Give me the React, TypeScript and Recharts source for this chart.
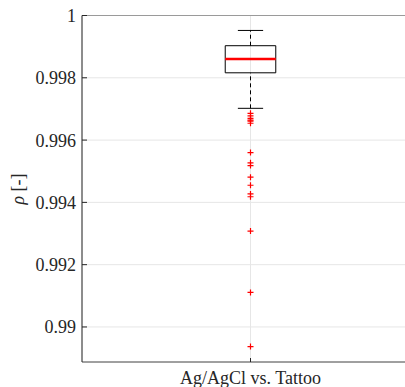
import {
  CartesianGrid,
  ComposedChart,
  Label,
  ReferenceArea,
  ReferenceLine,
  Scatter,
  XAxis,
  YAxis,
} from "recharts";

// one group, MATLAB-style boxplot
const categories = ["Ag/AgCl vs. Tattoo"];
const whiskerLow = [0.99702];
const q1 = [0.99816];
const median = [0.9986];
const q3 = [0.99903];
const whiskerHigh = [0.99952];
const outliers = [
  0.99686, 0.99678, 0.9967, 0.99664, 0.99661, 0.99654, 0.9956, 0.99527,
  0.99518, 0.99481, 0.99455, 0.99427, 0.99418, 0.99308, 0.99111, 0.98937,
];
const yTicks = [0.99, 0.992, 0.994, 0.996, 0.998, 1];

const FONT = "'Times New Roman', 'Liberation Serif', 'DejaVu Serif', serif";
const TEXT = "#262626";
const BOX_HALF = 0.15;
const CAP_HALF = 0.075;

const pos = 1; // x position of the only group

const textStyle = { fontFamily: FONT, fontSize: 18 };

function YTick(props: any) {
  const { x, y, payload } = props;
  return (
    <g>
      <line x1={x + 6} x2={x + 11} y1={y} y2={y} stroke={TEXT} strokeWidth={1} />
      <text x={x} y={y} dy="0.36em" textAnchor="end" fill={TEXT} style={textStyle}>
        {String(Number(payload.value.toFixed(3)))}
      </text>
    </g>
  );
}

function XTick(props: any) {
  const { x, y, payload } = props;
  return (
    <g>
      <line x1={x} x2={x} y1={y - 9} y2={y - 13} stroke={TEXT} strokeWidth={1} />
      <text x={x} y={y} dy="0.71em" textAnchor="middle" fill={TEXT} style={textStyle}>
        {categories[payload.value - 1]}
      </text>
    </g>
  );
}

function Plus(props: any) {
  const { cx, cy } = props;
  return (
    <g stroke="#ff0000" strokeWidth={1.2}>
      <line x1={cx - 3} x2={cx + 3} y1={cy} y2={cy} />
      <line x1={cx} x2={cx} y1={cy - 3} y2={cy + 3} />
    </g>
  );
}

function YLabel() {
  const cx = 24;
  const cy = 189;
  return (
    <text
      x={cx}
      y={cy}
      transform={`rotate(-90, ${cx}, ${cy})`}
      textAnchor="middle"
      fill={TEXT}
      style={textStyle}
    >
      <tspan fontStyle="italic">ρ</tspan> [-]
    </text>
  );
}

export default function App() {
  const points = outliers.map((v) => ({ x: pos, y: v }));
  const i = 0;
  return (
    <div
      style={{
        position: "absolute",
        left: 0,
        top: 0,
        width: 405,
        height: 387,
        overflow: "hidden",
        background: "#fff",
        fontFamily: FONT,
      }}
    >
      <ComposedChart
        width={420}
        height={387}
        margin={{ top: 15.5, right: 1, left: 0, bottom: 0 }}
      >
        <CartesianGrid stroke="#e6e6e6" strokeWidth={1} />
        <XAxis
          type="number"
          dataKey="x"
          domain={[0, 2]}
          ticks={[pos]}
          allowDataOverflow
          height={25}
          tickSize={0}
          tickMargin={9}
          tick={<XTick />}
          axisLine={{ stroke: "#4d4d4d" }}
        />
        <YAxis
          type="number"
          dataKey="y"
          domain={[0.988875, 1]}
          ticks={yTicks}
          allowDataOverflow
          width={82}
          tickSize={0}
          tickMargin={6}
          tick={<YTick />}
          axisLine={{ stroke: TEXT }}
        >
          <Label content={<YLabel />} />
        </YAxis>
        <ReferenceLine y={1} stroke="#9a9a9a" strokeWidth={1} />
        <ReferenceLine
          segment={[
            { x: pos, y: q3[i] },
            { x: pos, y: whiskerHigh[i] },
          ]}
          stroke="#000"
          strokeDasharray="4 3"
        />
        <ReferenceLine
          segment={[
            { x: pos, y: whiskerLow[i] },
            { x: pos, y: q1[i] },
          ]}
          stroke="#000"
          strokeDasharray="4 3"
        />
        <ReferenceLine
          segment={[
            { x: pos - CAP_HALF, y: whiskerHigh[i] },
            { x: pos + CAP_HALF, y: whiskerHigh[i] },
          ]}
          stroke="#000"
        />
        <ReferenceLine
          segment={[
            { x: pos - CAP_HALF, y: whiskerLow[i] },
            { x: pos + CAP_HALF, y: whiskerLow[i] },
          ]}
          stroke="#000"
        />
        <ReferenceArea
          x1={pos - BOX_HALF}
          x2={pos + BOX_HALF}
          y1={q1[i]}
          y2={q3[i]}
          fill="none"
          fillOpacity={0}
          stroke="#000"
          strokeWidth={1}
          strokeOpacity={1}
        />
        <ReferenceLine
          segment={[
            { x: pos - BOX_HALF, y: median[i] },
            { x: pos + BOX_HALF, y: median[i] },
          ]}
          stroke="#ff0000"
          strokeWidth={2.5}
        />
        <Scatter data={points} shape={<Plus />} isAnimationActive={false} />
      </ComposedChart>
    </div>
  );
}
